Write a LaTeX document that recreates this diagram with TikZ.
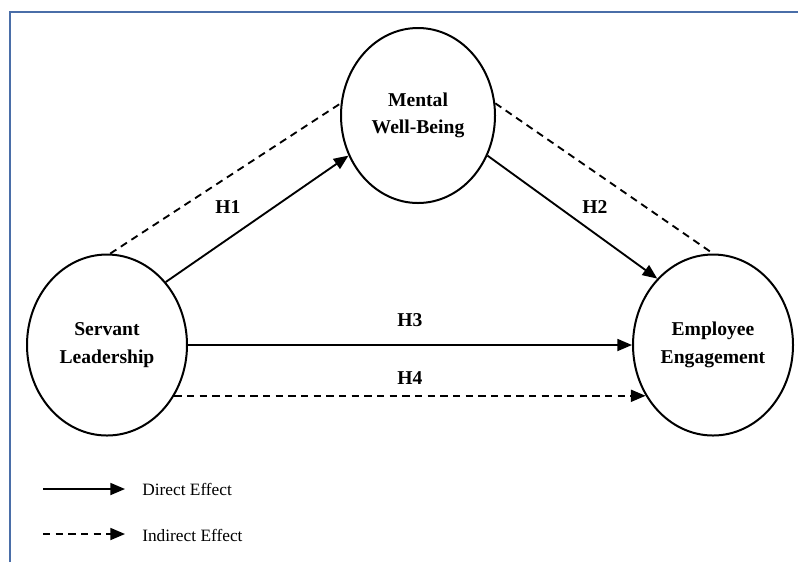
\documentclass[tikz,border=0pt]{standalone}
\usepackage{fontspec}
\setmainfont{Liberation Serif}
\usetikzlibrary{arrows.meta, shapes.geometric}
\definecolor{frameblue}{HTML}{4A6EA8}

\begin{document}
\begin{tikzpicture}[x=0.75pt, y=-0.75pt,
    construct/.style={draw, ellipse, line width=1.5pt, inner sep=0pt, align=center, font=\fontsize{14.7}{20.5}\selectfont\bfseries},
    outer/.style={construct, minimum width=120pt, minimum height=135.75pt},
    inner/.style={construct, minimum width=115.5pt, minimum height=131.25pt},
    hyp/.style={font=\fontsize{14.7}{17}\selectfont\bfseries, inner sep=0pt},
    legendtext/.style={font=\fontsize{13}{15}\selectfont, anchor=west, inner sep=0pt},
    direct/.style={-{Triangle[length=11pt, width=9pt]}, line width=1.4pt},
    indirect/.style={line width=1.4pt, dash pattern=on 5.5pt off 4pt},
    indirectarrow/.style={indirect, -{Triangle[length=11pt, width=9pt]}}
]
\useasboundingbox (0,0) rectangle (798,562);
\draw[frameblue, line width=1.6pt] (10,562) -- (10,12) -- (798,12);

\node[outer] (sl) at (107,345) {Servant\\Leadership};
\node[inner] (mwb) at (418,115.5) {Mental\\Well-Being};
\node[outer] (ee) at (713,345) {Employee\\Engagement};

% direct paths
\draw[direct] (sl.47) -- (mwb.210);
\draw[direct] (mwb.-30) -- (ee.130);
\draw[direct] (sl.east) -- (ee.west);

% indirect path
\draw[indirect] (sl.88) -- (mwb.171);
\draw[indirect] (mwb.9) -- (ee.north);
\draw[indirectarrow] (sl.-37) -- (ee.217);

\node[hyp] (h1) at (228,207) {H1};
\node[hyp] (h2) at (595,207) {H2};
\node[hyp] (h3) at (410,320) {H3};
\node[hyp] (h4) at (410,378) {H4};

% legend
\coordinate (d0) at (43,489);
\coordinate (d1) at (125,489);
\coordinate (i0) at (43,534);
\coordinate (i1) at (125,534);
\draw[direct] (d0) -- (d1);
\draw[indirectarrow] (i0) -- (i1);
\node[legendtext] (directlbl) at (142,489) {Direct Effect};
\node[legendtext] (indirectlbl) at (142,535) {Indirect Effect};
\end{tikzpicture}
\end{document}
